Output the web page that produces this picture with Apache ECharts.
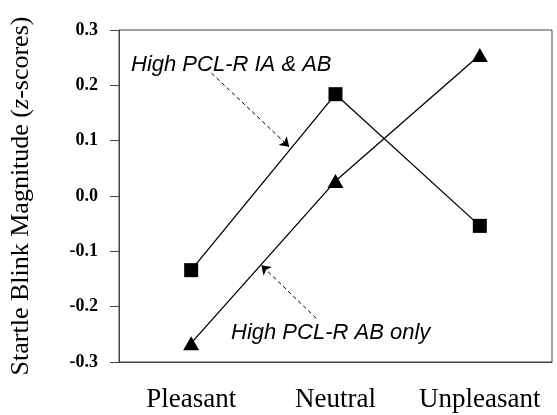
<!DOCTYPE html>
<html>
<head>
<meta charset="utf-8">
<script src="https://cdn.jsdelivr.net/npm/echarts@6/dist/echarts.min.js"></script>
<style>
  html, body { margin: 0; padding: 0; background: #fff; }
  #chart { width: 557px; height: 415px; }
</style>
</head>
<body>
<div id="chart"></div>
<script>
// picture data
const categories = ['Pleasant', 'Neutral', 'Unpleasant'];
const iaAbValues = [-0.134, 0.184, -0.054];   // squares
const abOnlyValues = [-0.266, 0.027, 0.255];  // triangles
const iaAbLabel = 'High PCL-R IA & AB';
const abOnlyLabel = 'High PCL-R AB only';
// dashed arrows, [category position, z-score] from tail to head
const iaAbArrow = [[0.141, 0.222], [0.679, 0.089]];
const abOnlyArrow = [[0.866, -0.221], [0.486, -0.125]];

const axisColor = '#444';
const serif = '"Liberation Serif", "Times New Roman", serif';
const sans = '"Liberation Sans", Arial, sans-serif';

const arrow = (pts) => ({
  type: 'lines',
  coordinateSystem: 'cartesian2d',
  xAxisIndex: 1,
  yAxisIndex: 0,
  silent: true,
  symbol: ['none', 'arrow'],
  symbolSize: 9,
  lineStyle: { color: '#000', type: [4, 3], width: 1, opacity: 1 },
  data: [{ coords: pts }]
});

const chart = echarts.init(document.getElementById('chart'));
chart.setOption({
  animation: false,
  backgroundColor: '#fff',
  grid: {
    left: 117, right: 5, top: 30, bottom: 53,
    show: true, borderColor: axisColor, borderWidth: 1
  },
  xAxis: [
    {
      type: 'category',
      data: categories,
      axisLine: { onZero: false, lineStyle: { color: axisColor, width: 1 } },
      axisTick: { alignWithLabel: true, length: 5, lineStyle: { color: axisColor } },
      axisLabel: { interval: 0, color: '#000', fontFamily: serif, fontSize: 27, margin: 24 }
    },
    // hidden twin axis so the arrows can sit between categories
    { type: 'value', min: -0.5, max: 2.5, show: false }
  ],
  yAxis: {
    type: 'value',
    min: -0.3, max: 0.3, interval: 0.1,
    name: 'Startle Blink Magnitude ({i|z}-scores)',
    nameLocation: 'middle',
    nameGap: 85,
    nameTextStyle: {
      color: '#000', fontFamily: serif, fontSize: 26,
      rich: { i: { fontStyle: 'italic', fontFamily: serif, fontSize: 26, color: '#000' } }
    },
    splitLine: { show: false },
    axisLine: { show: true, onZero: false, lineStyle: { color: axisColor, width: 1 } },
    axisTick: { show: true, length: 9, lineStyle: { color: axisColor } },
    axisLabel: {
      color: '#000', fontFamily: serif, fontSize: 18, fontWeight: 'bold', margin: 21,
      formatter: (v) => (Math.abs(v) < 1e-9 ? 0 : v).toFixed(1)
    }
  },
  graphic: [
    { type: 'text', left: 131, top: 54, style: { text: iaAbLabel, font: 'italic 22px ' + sans, fill: '#000' } },
    { type: 'text', left: 231, top: 322, style: { text: abOnlyLabel, font: 'italic 22px ' + sans, fill: '#000' } }
  ],
  series: [
    {
      name: iaAbLabel,
      type: 'line',
      data: iaAbValues,
      symbol: 'rect',
      symbolSize: 14,
      itemStyle: { color: '#000' },
      lineStyle: { color: '#000', width: 1.3 }
    },
    {
      name: abOnlyLabel,
      type: 'line',
      data: abOnlyValues,
      symbol: 'triangle',
      symbolSize: [16, 14],
      itemStyle: { color: '#000' },
      lineStyle: { color: '#000', width: 1.3 }
    },
    arrow(iaAbArrow),
    arrow(abOnlyArrow)
  ]
});
</script>
</body>
</html>
